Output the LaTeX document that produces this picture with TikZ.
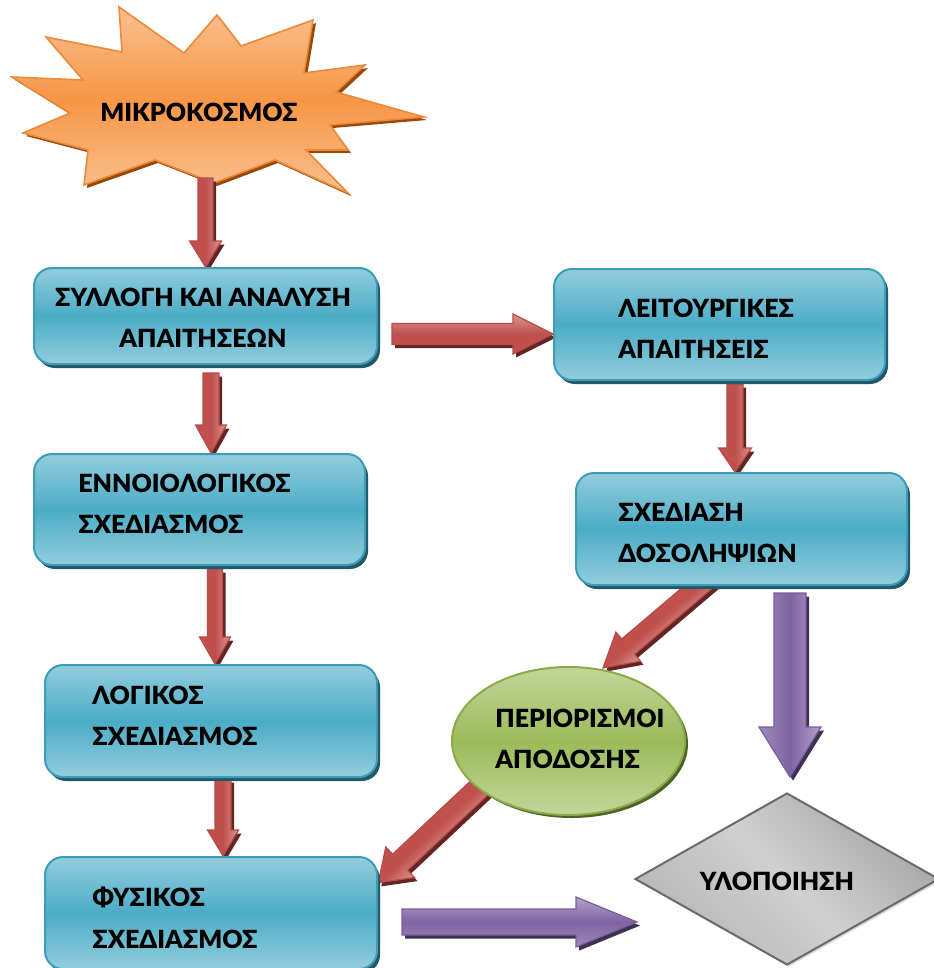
\documentclass[tikz,border=0pt]{standalone}
\usepackage{fontspec}
\setmainfont{Carlito}
\newfontfamily\lblfont{Lato}[BoldFont={Lato Black}]
\usetikzlibrary{calc,shapes.geometric,shadows,backgrounds}

\definecolor{boxlt}{HTML}{93CDDD}
\definecolor{boxmd}{HTML}{4BACC6}
\definecolor{boxedge}{HTML}{3E9DB6}
\definecolor{boxdk}{HTML}{215968}
\definecolor{redlt}{HTML}{DA9694}
\definecolor{redmd}{HTML}{C0504D}
\definecolor{redline}{HTML}{B84A47}
\definecolor{reddk}{HTML}{632523}
\definecolor{purlt}{HTML}{B3A2C7}
\definecolor{purmd}{HTML}{8064A2}
\definecolor{purline}{HTML}{7A5CA0}
\definecolor{purdk}{HTML}{3F3151}
\definecolor{grnlt}{HTML}{C3D69B}
\definecolor{grnmd}{HTML}{9BBB59}
\definecolor{grnline}{HTML}{8BAA4A}
\definecolor{grndk}{HTML}{4F6228}
\definecolor{orglt}{HTML}{FAC090}
\definecolor{orgmd}{HTML}{F79646}
\definecolor{orgline}{HTML}{EC8A3A}
\definecolor{orgdk}{HTML}{984807}
\definecolor{grylt}{HTML}{D0D0D0}
\definecolor{grymd}{HTML}{A6A6A6}
\definecolor{gryline}{HTML}{6A6A6A}

\tikzset{
  txt/.style={font=\lblfont\bfseries\fontsize{12.5pt}{20.75pt}\selectfont, inner sep=0pt, align=left, text=black},
  box/.style={rectangle, rounded corners=9pt, draw=boxedge, line width=1pt,
    top color=boxlt, bottom color=boxlt, middle color=boxmd,
    minimum width=165.5pt, minimum height=55.5pt, inner sep=0pt,
    general shadow={fill=boxdk, shadow xshift=1.5pt, shadow yshift=-2pt}},
  oval/.style={ellipse, draw=grnline, line width=1pt,
    top color=grnlt, bottom color=grnlt, middle color=grnmd,
    minimum width=116.5pt, minimum height=74pt, inner sep=0pt,
    general shadow={fill=grndk, shadow xshift=1.5pt, shadow yshift=-1.5pt}},
  rhomb/.style={diamond, draw=gryline, line width=1pt,
    top color=grymd, bottom color=grymd!60!grylt, middle color=grylt, shading angle=-45,
    minimum width=152pt, minimum height=86pt, inner sep=0pt,
    general shadow={fill=gray!30, shadow xshift=1pt, shadow yshift=-1pt}},
  burst/.style={draw=orgline, line width=0.8pt, line join=miter,
    top color=orglt, bottom color=orglt, middle color=orgmd,
    general shadow={fill=orgdk, shadow xshift=1.5pt, shadow yshift=-1.5pt}},
  redarr body/.style={draw=redline, line width=0.6pt, line join=miter,
    top color=redlt, bottom color=redmd, middle color=redmd},
  redarr shadow/.style={fill=reddk},
  purarr body/.style={draw=purline, line width=0.6pt, line join=miter,
    top color=purlt, bottom color=purlt!60!purmd, middle color=purmd},
  purarr shadow/.style={fill=purdk},
}

% block arrow from #1 (tail) to #2 (tip); #3 shaft width, #4 head width,
% #5 head length (picture units), #6 colour family (redarr / purarr)
\newcommand\blockarrow[6]{%
  \path (#1); \pgfgetlastxy{\bax}{\bay}%
  \path (#2); \pgfgetlastxy{\bbx}{\bby}%
  \pgfmathsetmacro\bang{atan2((\bby)-(\bay),(\bbx)-(\bax))}%
  \pgfmathsetmacro\blen{veclen((\bbx)-(\bax),(\bby)-(\bay))}%
  \pgfmathsetmacro\bsw{#3*0.25}%
  \pgfmathsetmacro\bhw{#4*0.25}%
  \pgfmathsetmacro\bneck{\blen-#5*0.5}%
  \begin{scope}[transform canvas={shift={(\bax+1.5pt,\bay-1.8pt)},rotate=\bang}]
    \fill[#6 shadow] (0pt,-\bsw pt) -- (\bneck pt,-\bsw pt) -- (\bneck pt,-\bhw pt)
      -- (\blen pt,0pt) -- (\bneck pt,\bhw pt) -- (\bneck pt,\bsw pt) -- (0pt,\bsw pt) -- cycle;
  \end{scope}
  \begin{scope}[transform canvas={shift={(\bax,\bay)},rotate=\bang}]
    \path[#6 body] (0pt,-\bsw pt) -- (\bneck pt,-\bsw pt) -- (\bneck pt,-\bhw pt)
      -- (\blen pt,0pt) -- (\bneck pt,\bhw pt) -- (\bneck pt,\bsw pt) -- (0pt,\bsw pt) -- cycle;
  \end{scope}}

\begin{document}
\begin{tikzpicture}[x=0.5pt,y=-0.5pt]
\useasboundingbox (0,0) rectangle (933,968);

% process boxes
\node[box, minimum width=171.5pt, minimum height=48pt] (box1) at (205.5,316) {};
\node[box] (box2) at (719.5,324.5) {};
\node[box] (box3) at (199.5,509.5) {};
\node[box, minimum height=56pt] (box4) at (741.5,529) {};
\node[box, minimum width=166pt, minimum height=56pt] (box5) at (211,721) {};
\node[box, minimum width=166pt, minimum height=56pt] (box6) at (211,913) {};

% performance constraints and implementation
\node[oval] (perf) at (568.5,741) {};
\node[rhomb] (impl) at (787,879) {};

% labels
\node[txt, align=center, anchor=north] (box1t) at (203,287.5) {ΣΥΛΛΟΓΗ ΚΑΙ ΑΝΑΛΥΣΗ\\ΑΠΑΙΤΗΣΕΩΝ};
\node[txt, anchor=north west] (box2t) at (618,298.5) {ΛΕΙΤΟΥΡΓΙΚΕΣ\\ΑΠΑΙΤΗΣΕΙΣ};
\node[txt, anchor=north west] (box3t) at (78,473.5) {ΕΝΝΟΙΟΛΟΓΙΚΟΣ\\ΣΧΕΔΙΑΣΜΟΣ};
\node[txt, anchor=north west] (box4t) at (618,502.5) {ΣΧΕΔΙΑΣΗ\\ΔΟΣΟΛΗΨΙΩΝ};
\node[txt, anchor=north west] (box5t) at (92,685.5) {ΛΟΓΙΚΟΣ\\ΣΧΕΔΙΑΣΜΟΣ};
\node[txt, anchor=north west] (box6t) at (92,886.5) {ΦΥΣΙΚΟΣ\\ΣΧΕΔΙΑΣΜΟΣ};
\node[txt, anchor=north west] (perft) at (495,708.5) {ΠΕΡΙΟΡΙΣΜΟΙ\\ΑΠΟΔΟΣΗΣ};
\node[txt] (implt) at (777,881) {ΥΛΟΠΟΙΗΣΗ};

% arrow end points
\coordinate (a1s) at (205.5,178);
\coordinate (a1e) at (box1.north);
\coordinate (a2s) at ($(box1.east)+(14,18)$);
\coordinate (a2e) at ($(box2.west)+(0,9.5)$);
\coordinate (a3s) at ($(box1.south)+(5.5,8)$);
\coordinate (a3e) at ($(box3.north)+(11.5,0)$);
\coordinate (a4s) at ($(box2.south)+(15.5,3)$);
\coordinate (a4e) at ($(box4.north)+(-6.5,0)$);
\coordinate (a5s) at ($(box3.south)+(15.5,3)$);
\coordinate (a5e) at ($(box5.north)+(4,0)$);
\coordinate (a6s) at ($(box5.south)+(12,1)$);
\coordinate (a6e) at ($(box6.north)+(12,0)$);
\coordinate (a7s) at ($(box4.south)+(-32.5,-8)$);
\coordinate (a7e) at ($(perf.center)+(34.5,-73)$);
\coordinate (a8s) at ($(perf.center)+(-59.5,19)$);
\coordinate (a8e) at ($(box6.east)+(0,-30)$);
\coordinate (p1s) at ($(box4.south)+(48.5,7)$);
\coordinate (p1e) at ($(impl.north)+(3,-15)$);
\coordinate (p2s) at ($(box6.east)+(24,9)$);
\coordinate (p2e) at ($(impl.west)+(3,43)$);

\begin{pgfonlayer}{background}
  % microcosm starburst
  \path[burst] (12,77) -- (83,80) -- (46,37) -- (122,52) -- (119,7) -- (184,53)
    -- (217,15) -- (241,46) -- (313,20) -- (304,73) -- (365,65) -- (336,92)
    -- (424,117) -- (330,125) -- (348,150) -- (306,150) -- (348,193) -- (275,160)
    -- (214,183) -- (155,160) -- (84,185) -- (88,150) -- (23,133) -- (70,113) -- cycle;
  \node[txt] (micro) at (199,112.5) {ΜΙΚΡΟΚΟΣΜΟΣ};

  \blockarrow{a1s}{a1e}{15}{32}{26}{redarr}
  \blockarrow{a2s}{a2e}{21}{40}{40}{redarr}
  \blockarrow{a3s}{a3e}{16}{31}{28}{redarr}
  \blockarrow{a4s}{a4e}{16}{33}{24}{redarr}
  \blockarrow{a5s}{a5e}{15}{31}{27}{redarr}
  \blockarrow{a6s}{a6e}{16}{31}{26}{redarr}
  \blockarrow{a7s}{a7e}{20}{38}{33}{redarr}
  \blockarrow{a8s}{a8e}{22}{42}{30}{redarr}
  \blockarrow{p1s}{p1e}{32}{62}{50}{purarr}
  \blockarrow{p2s}{p2e}{26}{50}{61}{purarr}
\end{pgfonlayer}
\end{tikzpicture}
\end{document}
